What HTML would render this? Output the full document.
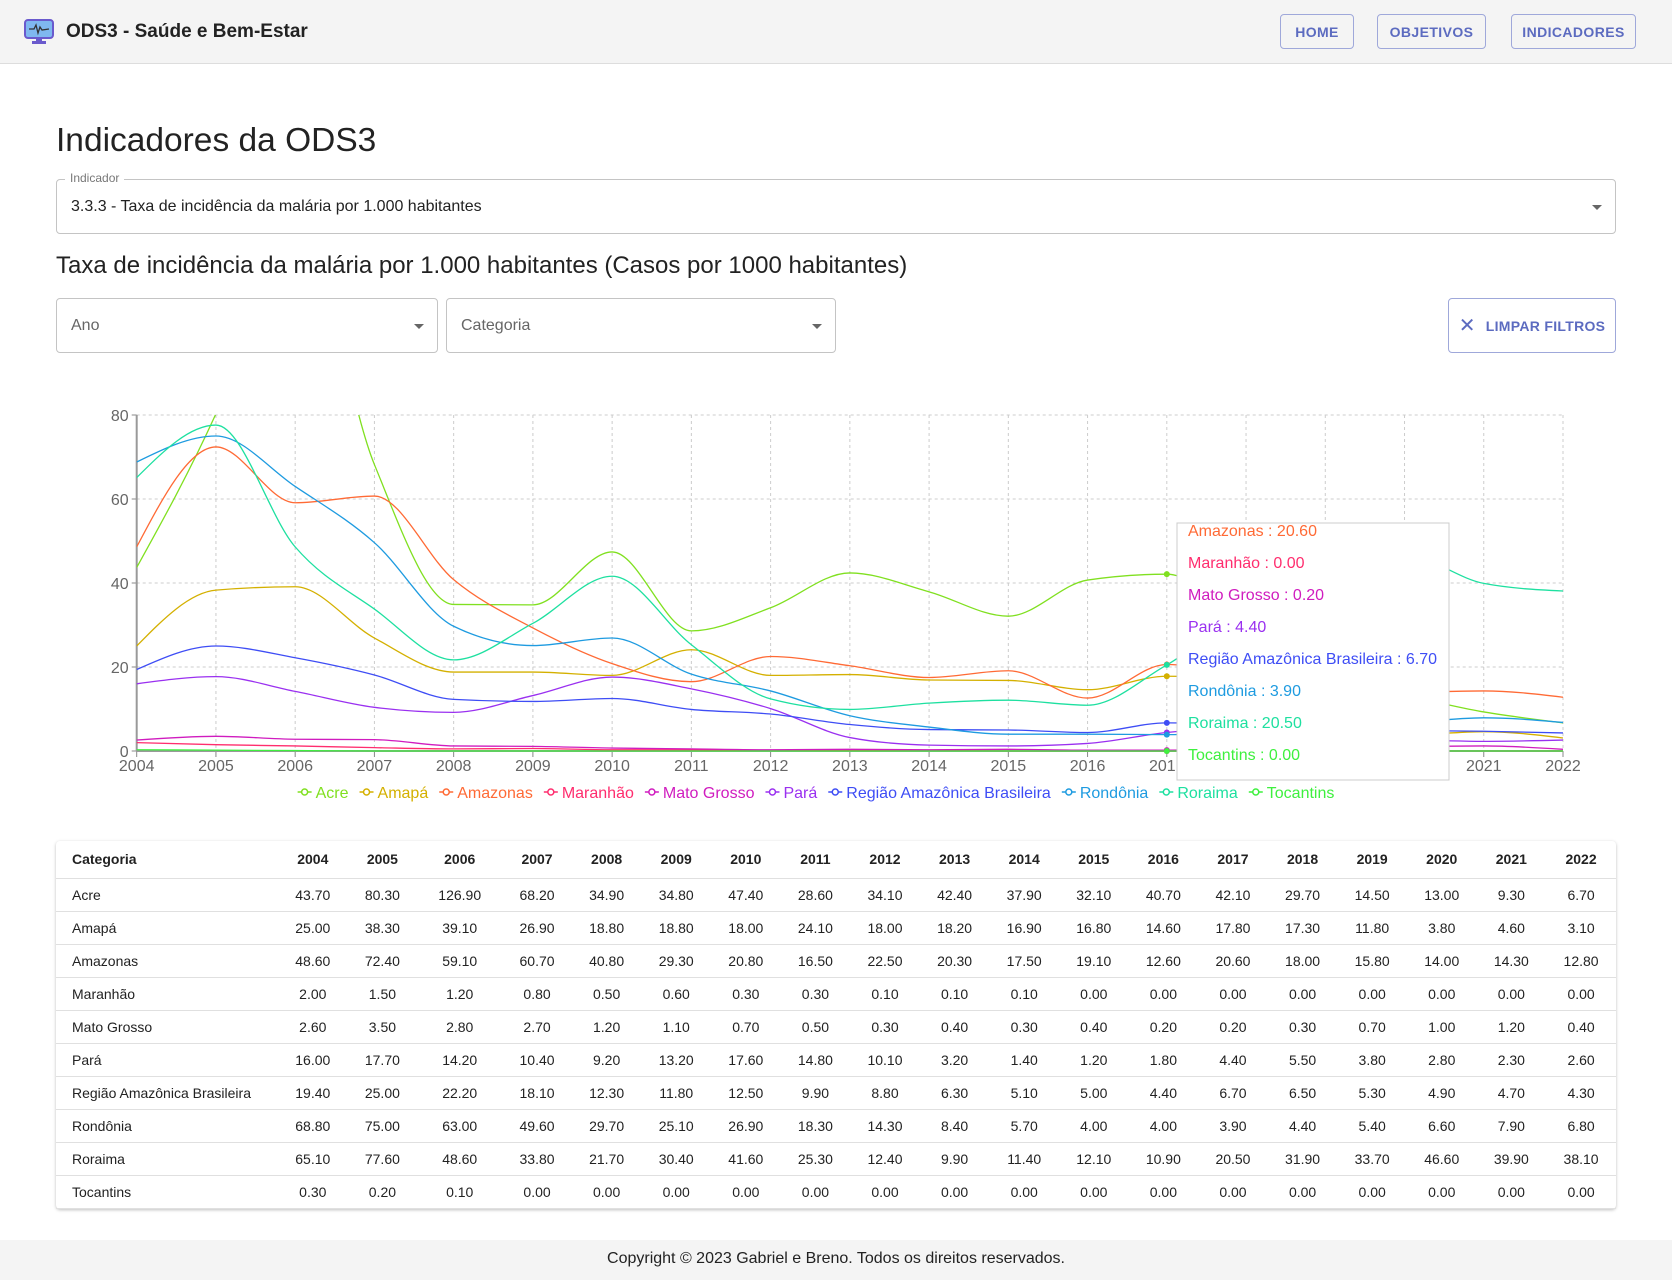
<!DOCTYPE html>
<html><head><meta charset="utf-8">
<style>
*{box-sizing:border-box;margin:0;padding:0}
body{width:1672px;height:1280px;background:#fff;font-family:"Liberation Sans",sans-serif;color:#222;position:relative;overflow:hidden}
.abs{position:absolute}
.hdr{left:0;top:0;width:1672px;height:64px;background:#f4f4f4;border-bottom:1px solid #ddd}
.nbtn{position:absolute;top:14px;height:35px;border:1px solid #9fa8da;border-radius:4px;color:#5c6bc0;font-size:14px;font-weight:bold;display:flex;align-items:center;justify-content:center;letter-spacing:.4px}
.sel{position:absolute;border:1px solid #c4c4c4;border-radius:4px}
.caret{position:absolute;width:0;height:0;border-left:5px solid transparent;border-right:5px solid transparent;border-top:5px solid #666}
table{border-collapse:collapse;font-size:14px}
td,th{height:33px;text-align:center;border-bottom:1px solid #e0e0e0;padding:0}
th{font-weight:bold;height:37px}
td:first-child,th:first-child{text-align:left;padding-left:16px}
</style></head><body>
<div class="abs hdr">
 <svg class="abs" style="left:24px;top:19px" width="30" height="26"><rect x="1" y="1" width="28" height="18" rx="3" fill="#7fb8f0" stroke="#6a5acd" stroke-width="2"/><polyline points="5,10 10,10 12,6 14,14 16,8 18,11 25,10" fill="none" stroke="#333" stroke-width="1.3"/><rect x="12" y="19" width="6" height="3" fill="#6a5acd"/><rect x="8" y="22" width="14" height="3" fill="#6a5acd"/></svg>
 <div class="abs" style="left:66px;top:21px;font-size:19px;font-weight:bold;color:#222">ODS3 - Saúde e Bem-Estar</div>
 <div class="nbtn" style="left:1280px;width:74px">HOME</div>
 <div class="nbtn" style="left:1377px;width:109px">OBJETIVOS</div>
 <div class="nbtn" style="left:1511px;width:125px">INDICADORES</div>
</div>
<div class="abs" style="left:56px;top:122px;font-size:33.5px;color:#222">Indicadores da ODS3</div>
<div class="sel" style="left:56px;top:179px;width:1560px;height:55px">
 <div class="abs" style="left:8px;top:-9px;background:#fff;padding:0 5px;font-size:12px;color:#777">Indicador</div>
 <div class="abs" style="left:14px;top:18px;font-size:16px;color:#222">3.3.3 - Taxa de incidência da malária por 1.000 habitantes</div>
 <div class="caret" style="right:13px;top:25px"></div>
</div>
<div class="abs" style="left:56px;top:252px;font-size:24px;color:#222">Taxa de incidência da malária por 1.000 habitantes (Casos por 1000 habitantes)</div>
<div class="sel" style="left:56px;top:298px;width:382px;height:55px"><div class="abs" style="left:14px;top:18px;font-size:16px;color:#666">Ano</div><div class="caret" style="right:13px;top:25px"></div></div>
<div class="sel" style="left:446px;top:298px;width:390px;height:55px"><div class="abs" style="left:14px;top:18px;font-size:16px;color:#666">Categoria</div><div class="caret" style="right:13px;top:25px"></div></div>
<div class="sel" style="left:1448px;top:298px;width:168px;height:55px;border-color:#9fa8da;color:#5c6bc0;font-size:14px;font-weight:bold;display:flex;align-items:center;justify-content:center;letter-spacing:.3px"><span style="font-size:20px;font-weight:normal;margin-right:10px">✕</span>LIMPAR FILTROS</div>

<svg id="chart" class="abs" style="left:0;top:380px" width="1672" height="440"></svg>

<div class="abs" style="left:56px;top:841px;width:1560px;height:368px;box-shadow:0 1px 3px rgba(0,0,0,.25);border-radius:4px">
<table id="tbl" style="width:1560px"></table></div>
<div class="abs" style="left:0;top:1240px;width:1672px;height:40px;background:#f4f4f4;text-align:center;font-size:16px;line-height:38px;color:#222">Copyright © 2023 Gabriel e Breno. Todos os direitos reservados.</div>

<script>
const years=[2004,2005,2006,2007,2008,2009,2010,2011,2012,2013,2014,2015,2016,2017,2018,2019,2020,2021,2022];
const categories=["Acre","Amapá","Amazonas","Maranhão","Mato Grosso","Pará","Região Amazônica Brasileira","Rondônia","Roraima","Tocantins"];
const acre=[43.7,80.3,126.9,68.2,34.9,34.8,47.4,28.6,34.1,42.4,37.9,32.1,40.7,42.1,29.7,14.5,13.0,9.3,6.7];
const amapa=[25.0,38.3,39.1,26.9,18.8,18.8,18.0,24.1,18.0,18.2,16.9,16.8,14.6,17.8,17.3,11.8,3.8,4.6,3.1];
const amazonas=[48.6,72.4,59.1,60.7,40.8,29.3,20.8,16.5,22.5,20.3,17.5,19.1,12.6,20.6,18.0,15.8,14.0,14.3,12.8];
const maranhao=[2.0,1.5,1.2,0.8,0.5,0.6,0.3,0.3,0.1,0.1,0.1,0,0,0,0,0,0,0,0];
const matoGrosso=[2.6,3.5,2.8,2.7,1.2,1.1,0.7,0.5,0.3,0.4,0.3,0.4,0.2,0.2,0.3,0.7,1.0,1.2,0.4];
const para=[16.0,17.7,14.2,10.4,9.2,13.2,17.6,14.8,10.1,3.2,1.4,1.2,1.8,4.4,5.5,3.8,2.8,2.3,2.6];
const regiao=[19.4,25.0,22.2,18.1,12.3,11.8,12.5,9.9,8.8,6.3,5.1,5.0,4.4,6.7,6.5,5.3,4.9,4.7,4.3];
const rondonia=[68.8,75.0,63.0,49.6,29.7,25.1,26.9,18.3,14.3,8.4,5.7,4.0,4.0,3.9,4.4,5.4,6.6,7.9,6.8];
const roraima=[65.1,77.6,48.6,33.8,21.7,30.4,41.6,25.3,12.4,9.9,11.4,12.1,10.9,20.5,31.9,33.7,46.6,39.9,38.1];
const tocantins=[0.3,0.2,0.1,0,0,0,0,0,0,0,0,0,0,0,0,0,0,0,0];
const yTicks=[0,20,40,60,80];
const series=[acre,amapa,amazonas,maranhao,matoGrosso,para,regiao,rondonia,roraima,tocantins];
const colors=["#80e020","#d4b000","#ff6a35","#ff2d6e","#d01cbf","#9a30f0","#3e4df5","#1e9be0","#1ee0a0","#3ef03e"];
const activeIdx=13;

const NS="http://www.w3.org/2000/svg";
const svg=document.getElementById('chart');
const X0=136.7,X1=1563,Y0=371,Y1=35;
const x=i=>X0+(X1-X0)*i/(years.length-1);
const y=v=>Y0-(Y0-Y1)*v/80;
function mk(t,a,p){const e=document.createElementNS(NS,t);for(const k in a)e.setAttribute(k,a[k]);(p||svg).appendChild(e);return e;}
const defs=mk('defs',{});const cp=mk('clipPath',{id:'cp'},defs);mk('rect',{x:X0,y:Y1,width:X1-X0,height:Y0-Y1+2},cp);
yTicks.forEach(t=>{const l=mk('line',{x1:X0,x2:X1,y1:y(t),y2:y(t),stroke:'#ccc','stroke-dasharray':'3 3'});


const tx=mk('text',{x:X0-8,y:y(t)+6,'text-anchor':'end','font-size':16,fill:'#666'});tx.textContent=t;


mk('line',{x1:X0-5,x2:X0,y1:y(t),y2:y(t),stroke:'#888'});});
years.forEach((yr,i)=>{const l=mk('line',{x1:x(i),x2:x(i),y1:Y1,y2:Y0,stroke:'#ccc','stroke-dasharray':'3 3'});


mk('line',{x1:x(i),x2:x(i),y1:Y0,y2:Y0+6,stroke:'#888'});
const tx=mk('text',{x:x(i),y:Y0+20,'text-anchor':'middle','font-size':16,fill:'#666'});tx.textContent=yr;

});
mk('line',{x1:X0,x2:X0,y1:Y1,y2:Y0,stroke:'#999','stroke-width':2});
mk('line',{x1:X0,x2:X1,y1:Y0,y2:Y0,stroke:'#999','stroke-width':2});
function monotone(pts){const n=pts.length;const d=[],m=[];for(let i=0;i<n-1;i++){d.push((pts[i+1][1]-pts[i][1])/(pts[i+1][0]-pts[i][0]));}
for(let i=0;i<n;i++){if(i==0)m.push(d[0]);else if(i==n-1)m.push(d[n-2]);else{const a=d[i-1],b=d[i];if(a*b<=0)m.push(0);else{const h0=pts[i][0]-pts[i-1][0],h1=pts[i+1][0]-pts[i][0];const p=(a*h1+b*h0)/(h0+h1);m.push((Math.sign(a)+Math.sign(b))*Math.min(Math.abs(a),Math.abs(b),0.5*Math.abs(p)));}}}
m[0]=(3*d[0]-m[1])/2;if(Math.sign(m[0])!=Math.sign(d[0]))m[0]=0;m[n-1]=(3*d[n-2]-m[n-2])/2;if(Math.sign(m[n-1])!=Math.sign(d[n-2]))m[n-1]=0;
let s='M'+pts[0][0]+','+pts[0][1];for(let i=0;i<n-1;i++){const h=(pts[i+1][0]-pts[i][0])/3;s+=`C${pts[i][0]+h},${pts[i][1]+m[i]*h} ${pts[i+1][0]-h},${pts[i+1][1]-m[i+1]*h} ${pts[i+1][0]},${pts[i+1][1]}`;}return s;}
const g=mk('g',{'clip-path':'url(#cp)'});
series.forEach((s,k)=>{const p=mk('path',{d:monotone(s.map((v,i)=>[x(i),y(v)])),fill:'none',stroke:colors[k],'stroke-width':1.3},g);

});
series.forEach((s,k)=>{const c=mk('circle',{cx:x(activeIdx),cy:y(s[activeIdx]),r:3,fill:colors[k]});

});
const lg=mk('g',{});let lx=0;const ly=412;
categories.forEach((c,k)=>{mk('line',{x1:lx,x2:lx+14,y1:ly,y2:ly,stroke:colors[k],'stroke-width':1.5},lg);mk('circle',{cx:lx+7,cy:ly,r:3,fill:'#fff',stroke:colors[k],'stroke-width':1.5},lg);
const t=mk('text',{x:lx+18,y:ly+6,'font-size':16,fill:colors[k]},lg);t.textContent=c;


lx+=18+t.getComputedTextLength()+11;});
const lw=lx-11;lg.setAttribute('transform',`translate(${816-lw/2},0)`);
const tg=mk('g',{});


mk('rect',{x:1177,y:143,width:272,height:257,fill:'#fff',stroke:'#ccc'},tg);
[2,3,4,5,6,7,8,9].forEach((k,j)=>{const t=mk('text',{x:1188,y:150+j*32+6,'font-size':16,fill:colors[k]},tg);t.textContent=categories[k]+' : '+series[k][activeIdx].toFixed(2);});
const tb=document.getElementById('tbl');
let h='<tr><th style="width:222px">Categoria</th>'+years.map(y=>`<th>${y}</th>`).join('')+'</tr>';
categories.forEach((c,k)=>{h+=`<tr><td>${c}</td>`+series[k].map(v=>`<td>${v.toFixed(2)}</td>`).join('')+'</tr>';});
tb.innerHTML=h;
</script>
</body></html>
